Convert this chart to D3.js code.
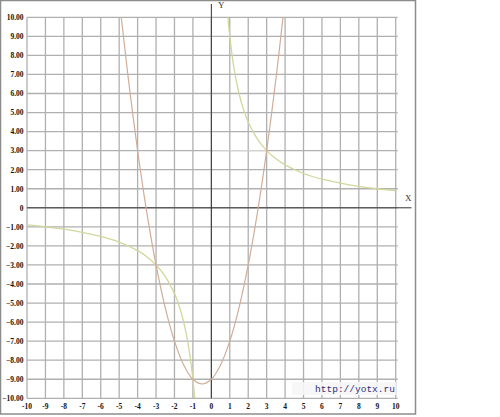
<!DOCTYPE html>
<html><head><meta charset="utf-8">
<script src="https://cdn.jsdelivr.net/npm/d3@7"></script>
<style>body{margin:0;background:#fff}svg{display:block}</style>
</head><body>
<script>
const xTicks = [-10,-9,-8,-7,-6,-5,-4,-3,-2,-1,0,1,2,3,4,5,6,7,8,9,10];
const yTicks = [-10,-9,-8,-7,-6,-5,-4,-3,-2,-1,0,1,2,3,4,5,6,7,8,9,10];
const parabolaX = [-4.9,-4.5,-4,-3.5,-3,-2.5,-2,-1.5,-1,-0.5,0,0.5,1,1.5,2,2.5,3,3.5,3.9];
const parabolaY = [10.11,6.75,3,-0.25,-3,-5.25,-7,-8.25,-9,-9.25,-9,-8.25,-7,-5.25,-3,-0.25,3,6.75,10.11];
const hypLeftX = [-10,-9,-8,-7,-6,-5,-4,-3.5,-3,-2.5,-2,-1.75,-1.5,-1.25,-1,-0.9];
const hypLeftY = [-0.9,-1,-1.125,-1.29,-1.5,-1.8,-2.25,-2.57,-3,-3.6,-4.5,-5.14,-6,-7.2,-9,-10];
const hypRightX = [0.9,1,1.25,1.5,1.75,2,2.5,3,3.5,4,5,6,7,8,9,10];
const hypRightY = [10,9,7.2,6,5.14,4.5,3.6,3,2.57,2.25,1.8,1.5,1.29,1.125,1,0.9];
const markPts = [[0,3],[3,0],[0,-3],[-3,0]];

const W=500,H=417;
const svg=d3.select("body").append("svg").attr("width",W).attr("height",H);
const x=d3.scaleLinear().domain([-10,10]).range([27,395.7]);
const y=d3.scaleLinear().domain([-10,10]).range([398.3,17.3]);

// frame
svg.append("rect").attr("x",0.5).attr("y",0.5).attr("width",415).attr("height",413.5)
  .attr("fill","#fff").attr("stroke","#8c8c8c").attr("stroke-width",1.5);

const serif='"Liberation Serif","DejaVu Serif",serif';
// grid
const grid=svg.append("g");
grid.selectAll("line.v").data(xTicks).join("line")
  .attr("x1",d=>x(d)).attr("x2",d=>x(d)).attr("y1",y(10)).attr("y2",y(-10))
  .attr("stroke","#b0b0b0").attr("stroke-width",1.3);
grid.selectAll("line.h").data(yTicks).join("line")
  .attr("x1",x(-10)).attr("x2",x(10)+2).attr("y1",d=>y(d)).attr("y2",d=>y(d))
  .attr("stroke","#b0b0b0").attr("stroke-width",1.3);

// helper lines for intersection
svg.append("line").attr("x1",x(0)).attr("x2",x(3)).attr("y1",y(3)).attr("y2",y(3))
  .attr("stroke","#d8d8d8").attr("stroke-width",1);
svg.selectAll("circle.m").data(markPts).join("circle")
  .attr("cx",d=>x(d[0])).attr("cy",d=>y(d[1])).attr("r",1.3).attr("fill","#c0c0c0");

// axes
svg.append("line").attr("x1",x(-10)).attr("x2",411.5).attr("y1",y(0)).attr("y2",y(0))
  .attr("stroke","#333").attr("stroke-width",1);
svg.append("line").attr("x1",x(0)).attr("x2",x(0)).attr("y1",4).attr("y2",y(-10))
  .attr("stroke","#333").attr("stroke-width",1);
svg.append("text").attr("x",405).attr("y",201).text("X")
  .attr("font-family",serif).attr("font-size",9).attr("fill","#333");
svg.append("text").attr("x",218).attr("y",8).text("Y")
  .attr("font-family",serif).attr("font-size",9).attr("fill","#333");

// tick labels
svg.selectAll("text.yl").data(yTicks).join("text")
  .attr("x",23.5).attr("y",d=>y(d)+2.8).attr("text-anchor","end")
  .attr("font-family",serif).attr("font-weight","bold").attr("font-size",7.5).attr("fill","#111")
  .text(d=>d===0?"0":d3.format(".2f")(d));
svg.selectAll("text.xl").data(xTicks).join("text")
  .attr("x",d=>x(d)).attr("y",409).attr("text-anchor","middle")
  .attr("font-family",serif).attr("font-weight","bold").attr("font-size",7.5).attr("fill","#111")
  .text(d=>d);

// clip
svg.append("clipPath").attr("id","clip").append("rect")
  .attr("x",x(-10)).attr("y",y(10)).attr("width",x(10)-x(-10)).attr("height",y(-10)-y(10));

const line=d3.line().x(d=>x(d[0])).y(d=>y(d[1])).curve(d3.curveCatmullRom.alpha(0.5));
const curves=svg.append("g").attr("clip-path","url(#clip)");
curves.append("path").datum(hypLeftX.map((v,i)=>[v,hypLeftY[i]])).attr("d",line)
  .attr("fill","none").attr("stroke","#d2d79c").attr("stroke-width",1.3);
curves.append("path").datum(hypRightX.map((v,i)=>[v,hypRightY[i]])).attr("d",line)
  .attr("fill","none").attr("stroke","#d2d79c").attr("stroke-width",1.3);
curves.append("path").datum(parabolaX.map((v,i)=>[v,parabolaY[i]])).attr("d",line)
  .attr("fill","none").attr("stroke","#d0ad98").attr("stroke-width",1.2);

// watermark
svg.append("rect").attr("x",292).attr("y",382).attr("width",104).attr("height",13)
  .attr("fill","#f6f6f6").attr("opacity",0.9);
svg.append("text").attr("x",355).attr("y",391.5).attr("text-anchor","middle")
  .attr("font-family",'"Liberation Mono","DejaVu Sans Mono",monospace').attr("font-size",9.5)
  .attr("fill","#2e2e7a").text("http://yotx.ru");
</script>
</body></html>
